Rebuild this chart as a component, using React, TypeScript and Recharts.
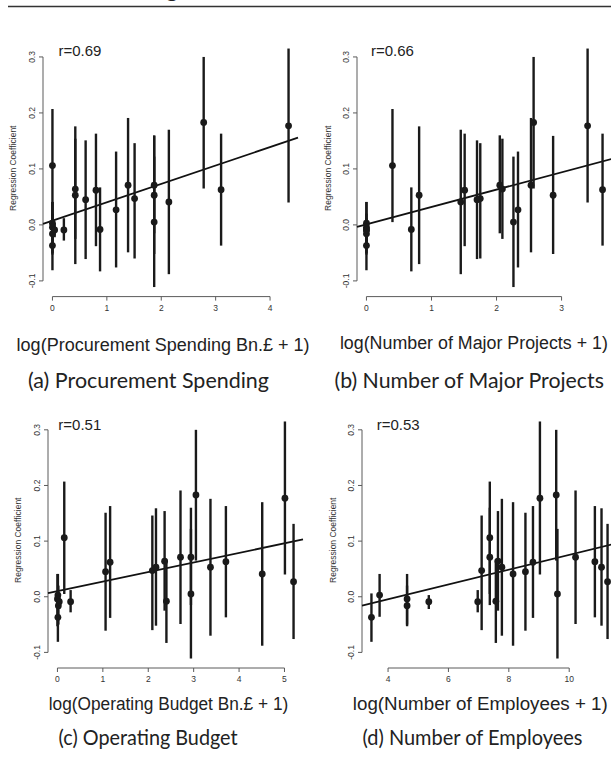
import React from 'react';
import { ComposedChart, Scatter, ErrorBar, XAxis, YAxis, ReferenceLine } from 'recharts';

// Regression coefficients (one per agency) with 95% interval bounds
const coef = [-0.037, 0.003, -0.004, -0.016, -0.009, -0.009, 0.047, 0.106, 0.071, -0.008, 0.064, 0.053, 0.041, 0.045, 0.062, 0.177, 0.183, 0.005, 0.071, 0.063, 0.053, 0.027];
const ciLow = [-0.081, -0.036, -0.053, -0.050, -0.022, -0.028, -0.060, 0.005, -0.015, -0.083, -0.025, -0.070, -0.088, -0.061, -0.038, 0.040, 0.065, -0.111, -0.049, -0.037, -0.052, -0.076];
const ciHigh = [0.006, 0.041, 0.041, 0.020, 0.003, 0.012, 0.146, 0.207, 0.160, 0.067, 0.154, 0.176, 0.170, 0.151, 0.163, 0.315, 0.300, 0.122, 0.191, 0.163, 0.159, 0.131];

// x values per panel (same agency order)
const procurement = [0, 0, 0, 0, 0.04, 0.21, 1.51, 0, 1.87, 0.875, 0.42, 0.42, 2.14, 0.61, 0.8, 4.34, 2.78, 1.87, 1.39, 3.1, 1.87, 1.17];
const projects = [0, 0, 0, 0, 0, 0, 1.75, 0.4, 2.05, 0.69, 2.09, 0.81, 1.45, 1.7, 1.51, 3.4, 2.57, 2.26, 2.53, 3.63, 2.87, 2.33];
const budget = [0.01, 0.01, 0.0, 0.02, 0.04, 0.29, 2.09, 0.15, 2.94, 2.4, 2.36, 3.37, 4.51, 1.06, 1.16, 5.01, 3.05, 2.94, 2.71, 3.71, 2.17, 5.2];
const employees = [3.45, 3.72, 4.63, 4.63, 5.35, 6.97, 7.1, 7.37, 7.37, 7.57, 7.64, 7.77, 8.14, 8.55, 8.8, 9.03, 9.57, 9.61, 10.21, 10.85, 11.07, 11.27];

// fitted lines [intercept, slope]
const fitProcurement = [0.0074, 0.0329];
const fitProjects = [0.001, 0.031];
const fitBudget = [0.01, 0.0172];
const fitEmployees = [-0.0576, 0.0133];

const correlations = ['r=0.69', 'r=0.66', 'r=0.51', 'r=0.53'];
const xTicksProcurement = [0, 1, 2, 3, 4];
const xTicksProjects = [0, 1, 2, 3];
const xTicksBudget = [0, 1, 2, 3, 4, 5];
const xTicksEmployees = [4, 6, 8, 10];
const yTicks = [-0.1, 0, 0.1, 0.2, 0.3];
const xTitles = [
  'log(Procurement Spending Bn.£ + 1)',
  'log(Number of Major Projects + 1)',
  'log(Operating Budget Bn.£ + 1)',
  'log(Number of Employees + 1)',
];
const captions = ['(a) Procurement Spending', '(b) Number of Major Projects', '(c) Operating Budget', '(d) Number of Employees'];
const yTitle = 'Regression Coefficient';

const AX = '#5a5a5a';
const INK = '#1a1a1a';
const RFONT = '"Liberation Sans", Arial, Helvetica, sans-serif';
const CFONT = 'Lato, "Open Sans", sans-serif';

function padRange(vals: number[]): [number, number] {
  const mn = Math.min(...vals);
  const mx = Math.max(...vals);
  const p = (mx - mn) * 0.04;
  return [mn - p, mx + p];
}

const Y_DOMAIN = padRange([...ciLow, ...ciHigh]);

const YW = 40;
const MT = 10;
const XH = 26;
const MR = 8;

const XTick = (props: any) => {
  const { x, y, payload } = props;
  return (
    <text x={x} y={y + 8.3} textAnchor="middle" fontSize={8.5} fill="#333" fontFamily={RFONT}>
      {String(payload.value)}
    </text>
  );
};

const YTick = (props: any) => {
  const { x, y, payload } = props;
  const bx = x - 2;
  return (
    <text x={bx} y={y} transform={`rotate(-90 ${bx} ${y})`} textAnchor="middle" fontSize={8.5} fill="#333" fontFamily={RFONT}>
      {Number(payload.value).toFixed(1)}
    </text>
  );
};

const Dot = (props: any) => {
  const { cx, cy } = props;
  if (cx == null || cy == null) return null;
  return <circle cx={cx} cy={cy} r={3.4} fill={INK} />;
};

type PanelProps = {
  xs: number[];
  ticks: number[];
  fit: number[];
  left: number;
  top: number;
  w: number;
  h: number;
};

function Panel({ xs, ticks, fit, left, top, w, h }: PanelProps) {
  const data = xs.map((x, i) => ({ x, y: coef[i], err: [coef[i] - ciLow[i], ciHigh[i] - coef[i]] }));
  const xd = padRange(xs);
  const [b0, b1] = fit;
  return (
    <div style={{ position: 'absolute', left: left - YW, top: top - MT }}>
      <ComposedChart width={YW + w + MR} height={MT + h + XH} data={data} margin={{ top: MT, right: MR, bottom: 0, left: 0 }}>
        <XAxis
          type="number"
          dataKey="x"
          domain={xd}
          ticks={ticks}
          allowDataOverflow
          axisLine={false}
          tickLine={{ stroke: AX }}
          tickSize={4}
          tick={<XTick />}
          height={XH}
          interval={0}
        />
        <YAxis
          type="number"
          dataKey="y"
          domain={Y_DOMAIN}
          ticks={yTicks}
          allowDataOverflow
          axisLine={false}
          tickLine={{ stroke: AX }}
          tickSize={4}
          tick={<YTick />}
          width={YW}
          interval={0}
        />
        <ReferenceLine
          segment={[{ x: ticks[0], y: Y_DOMAIN[0] }, { x: ticks[ticks.length - 1], y: Y_DOMAIN[0] }]}
          stroke={AX}
          ifOverflow="visible"
        />
        <ReferenceLine
          segment={[{ x: xd[0], y: yTicks[0] }, { x: xd[0], y: yTicks[yTicks.length - 1] }]}
          stroke={AX}
          ifOverflow="visible"
        />
        <ReferenceLine
          segment={[{ x: xd[0], y: b0 + b1 * xd[0] }, { x: xd[1], y: b0 + b1 * xd[1] }]}
          stroke="#111"
          strokeWidth={1.8}
          ifOverflow="visible"
        />
        <Scatter dataKey="y" isAnimationActive={false} shape={<Dot />}>
          <ErrorBar dataKey="err" direction="y" width={0} stroke={INK} strokeWidth={2.4} isAnimationActive={false} />
        </Scatter>
      </ComposedChart>
    </div>
  );
}

const panels = [
  { xs: procurement, ticks: xTicksProcurement, fit: fitProcurement, left: 42.8, top: 39.4, w: 255, h: 257.6 },
  { xs: projects, ticks: xTicksProjects, fit: fitProjects, left: 357.3, top: 39.4, w: 255, h: 257.6 },
  { xs: budget, ticks: xTicksBudget, fit: fitBudget, left: 47.7, top: 412.2, w: 255, h: 256 },
  { xs: employees, ticks: xTicksEmployees, fit: fitEmployees, left: 362.2, top: 412.2, w: 255, h: 256 },
];

const rPos = [
  { x: 58.5, y: 56 },
  { x: 371, y: 56 },
  { x: 58.3, y: 430 },
  { x: 376.7, y: 430 },
];
const titlePos = [
  { x: 163.1, y: 351, len: 293 },
  { x: 473.9, y: 349, len: 268 },
  { x: 168.5, y: 710, len: 239.5 },
  { x: 480.3, y: 710, len: 255 },
];
const captionPos = [
  { x: 148.5, y: 387.5, len: 241 },
  { x: 469.2, y: 387.5, len: 269.5 },
  { x: 148.1, y: 744.5, len: 179 },
  { x: 472.5, y: 744.5, len: 220 },
];

export default function App() {
  return (
    <div style={{ position: 'fixed', left: 0, top: 0, width: 611, height: 759, overflow: 'hidden', background: '#fff' }}>
      {panels.map((p, i) => (
        <Panel key={i} {...p} />
      ))}
      <svg width={611} height={759} style={{ position: 'absolute', left: 0, top: 0, pointerEvents: 'none' }}>
        <text x={172} y={-3} textAnchor="middle" fontSize={22} fontFamily={CFONT} fill="#222">g</text>
        <line x1={8} x2={611} y1={6.5} y2={6.5} stroke="#333" strokeWidth={1.5} />
        {panels.map((p, i) => (
          <g key={i}>
            <text x={rPos[i].x} y={rPos[i].y} fontSize={15} fontFamily={RFONT} fill="#222">
              {correlations[i]}
            </text>
            <text
              x={p.left - 29.5}
              y={p.top + p.h / 2}
              transform={`rotate(-90 ${p.left - 29.5} ${p.top + p.h / 2})`}
              textAnchor="middle"
              dominantBaseline="central"
              fontSize={8.5}
              fontFamily={RFONT}
              fill="#333"
            >
              {yTitle}
            </text>
            <text
              x={titlePos[i].x}
              y={titlePos[i].y}
              textAnchor="middle"
              fontSize={18}
              textLength={titlePos[i].len}
              lengthAdjust="spacingAndGlyphs"
              fontFamily={RFONT}
              fill="#222"
            >
              {xTitles[i]}
            </text>
            <text
              x={captionPos[i].x}
              y={captionPos[i].y}
              textAnchor="middle"
              fontSize={21}
              textLength={captionPos[i].len}
              lengthAdjust="spacingAndGlyphs"
              fontFamily={CFONT}
              fill="#222"
            >
              {captions[i]}
            </text>
          </g>
        ))}
      </svg>
    </div>
  );
}
